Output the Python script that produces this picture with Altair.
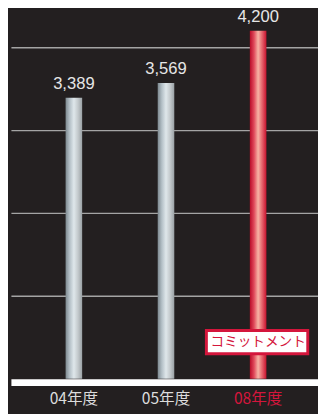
import altair as alt
import pandas as pd

years = ["04年度", "05年度", "08年度"]
values = [3389, 3569, 4200]
value_labels = ["3,389", "3,569", "4,200"]
kinds = ["actual", "actual", "commit"]
grid_values = [1000, 2000, 3000, 4000]
note_text = ["コミットメント"]
highlight = "08年度"

df = pd.DataFrame({"year": years, "value": values, "label": value_labels, "kind": kinds})
note_df = pd.DataFrame({"year": [highlight], "note": note_text})

BG = "#231f20"
RED = "#d4163c"

silver = alt.Gradient(
    gradient="linear", x1=0, x2=1, y1=0, y2=0,
    stops=[
        alt.GradientStop(color="#7d8990", offset=0),
        alt.GradientStop(color="#b4c0c7", offset=0.25),
        alt.GradientStop(color="#dfe7eb", offset=0.5),
        alt.GradientStop(color="#c3c9cc", offset=0.75),
        alt.GradientStop(color="#9aa1a5", offset=1),
    ],
)
red = alt.Gradient(
    gradient="linear", x1=0, x2=1, y1=0, y2=0,
    stops=[
        alt.GradientStop(color="#b80c28", offset=0),
        alt.GradientStop(color="#e0485a", offset=0.25),
        alt.GradientStop(color="#f7b4a4", offset=0.5),
        alt.GradientStop(color="#e5606a", offset=0.75),
        alt.GradientStop(color="#c8122e", offset=1),
    ],
)

x_enc = alt.X(
    "year:N",
    sort=years,
    scale=alt.Scale(paddingInner=0, paddingOuter=0.1667, align=0.55),
    axis=alt.Axis(
        title=None,
        domainColor="#ffffff",
        domainWidth=7,
        offset=3.5,
        ticks=False,
        tickSize=0,
        labelPadding=9,
        labelAngle=0,
        labelFont="Noto Sans CJK JP",
        labelFontSize=16,
        labelColor={"condition": {"test": f"datum.value === '{highlight}'", "value": RED}, "value": "#dcdcdc"},
        grid=False,
        zindex=1,
    ),
)
y_enc = alt.Y(
    "value:Q",
    scale=alt.Scale(domain=[0, 4412], nice=False, zero=True),
    axis=alt.Axis(
        values=grid_values,
        grid=True,
        labels=False,
        ticks=False,
        domain=False,
        title=None,
        gridColor="#a4a4a4",
        gridWidth=1.4,
    ),
)

base = alt.Chart(df).encode(x=x_enc, y=y_enc)

bars_silver = base.transform_filter("datum.kind === 'actual'").mark_bar(size=17, fill=silver)
bars_red = base.transform_filter("datum.kind === 'commit'").mark_bar(size=17, fill=red)
labels = base.mark_text(
    baseline="bottom", dy=-5, font="Liberation Sans", fontSize=17, color="#e6e6e6"
).encode(text="label:N")

note_box = alt.Chart(note_df).mark_rect(fill="#ffffff", stroke=RED, strokeWidth=3).encode(
    x=alt.value(200.5), x2=alt.value(304.5), y=alt.value(325.5), y2=alt.value(349.5)
)
note_label = alt.Chart(note_df).mark_text(
    font="Noto Sans CJK JP", fontSize=14, color=RED, baseline="middle", align="center"
).encode(
    x=alt.X("year:N", sort=years),
    y=alt.value(337.5),
    text="note:N",
)

chart = alt.layer(bars_silver, bars_red, labels, note_box, note_label).properties(
    width=315,
    height=375,
    padding={"left": 3, "top": 0, "right": 0, "bottom": 31},
    autosize="none",
    background=BG,
).configure_view(stroke=None)

chart.save("out.html", embed_options={"renderer": "svg", "actions": False})
